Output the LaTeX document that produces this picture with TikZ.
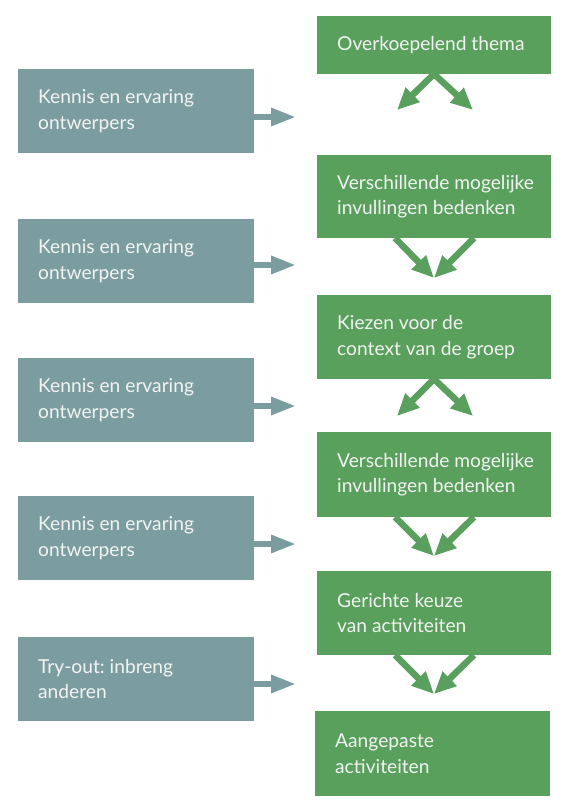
\documentclass[tikz,border=0pt]{standalone}
\usepackage{fontspec}
\setmainfont{Lato}
\usetikzlibrary{arrows.meta}
\definecolor{boxgreen}{HTML}{58A05C}
\definecolor{boxgray}{HTML}{7B9DA0}
\definecolor{txt}{HTML}{F2F4F2}
\frenchspacing
\begin{document}
\begin{tikzpicture}[x=1pt,y=-1pt,
  base/.style={anchor=north west, inner sep=0pt, outer sep=0pt},
  graybox/.style={base, fill=boxgray, minimum width=236pt, minimum height=84pt},
  greenbox/.style={base, fill=boxgreen, minimum width=234pt},
  txtnode/.style={anchor=west, inner sep=0pt, align=left, text=txt,
    font=\fontsize{19.2}{25.5}\selectfont},
  garrow/.style={draw=boxgray, line width=6pt, -{Triangle[length=25pt,width=17pt]}},
  grarrow/.style={draw=boxgreen, line width=6.5pt, -{Triangle[length=22pt,width=19pt]}}
]
\useasboundingbox[fill=white] (0,0) rectangle (568,803);
% green column
\node[greenbox, minimum height=58pt] (g1) at (317,16) {};
\node[greenbox, minimum height=83pt] (g2) at (317,155) {};
\node[greenbox, minimum height=84pt] (g3) at (317,295) {};
\node[greenbox, minimum height=85pt] (g4) at (317,432) {};
\node[greenbox, minimum height=84pt] (g5) at (317,571) {};
\node[greenbox, minimum height=85pt, minimum width=235pt] (g6) at (315,711) {};
\node[txtnode] (g1t) at ([xshift=20pt]g1.west) {Overkoepelend thema};
\node[txtnode] (g2t) at ([xshift=20pt]g2.west) {Verschillende mogelijke\\invullingen bedenken};
\node[txtnode] (g3t) at ([xshift=20pt]g3.west) {Kiezen voor de\\context van de groep};
\node[txtnode] (g4t) at ([xshift=20pt]g4.west) {Verschillende mogelijke\\invullingen bedenken};
\node[txtnode] (g5t) at ([xshift=20pt]g5.west) {Gerichte keuze\\van activiteiten};
\node[txtnode] (g6t) at ([xshift=20pt]g6.west) {Aangepaste\\activiteiten};
% gray column
\node[graybox] (k1) at (18,69) {};
\node[graybox] (k2) at (18,219) {};
\node[graybox] (k3) at (18,358) {};
\node[graybox] (k4) at (18,496) {};
\node[graybox] (k5) at (18,637) {};
\node[txtnode] (k1t) at ([xshift=20pt]k1.west) {Kennis en ervaring\\ontwerpers};
\node[txtnode] (k2t) at ([xshift=20pt]k2.west) {Kennis en ervaring\\ontwerpers};
\node[txtnode] (k3t) at ([xshift=20pt]k3.west) {Kennis en ervaring\\ontwerpers};
\node[txtnode] (k4t) at ([xshift=20pt]k4.west) {Kennis en ervaring\\ontwerpers};
\node[txtnode] (k5t) at ([xshift=20pt]k5.west) {Try-out: inbreng\\anderen};
% gray arrow ends
\coordinate (e1) at (296,117);
\coordinate (e2) at (296,265);
\coordinate (e3) at (296,406);
\coordinate (e4) at (296,544);
\coordinate (e5) at (296,684);
\draw[garrow] (k1.east |- e1) -- (e1);
\draw[garrow] (k2.east |- e2) -- (e2);
\draw[garrow] (k3.east |- e3) -- (e3);
\draw[garrow] (k4.east |- e4) -- (e4);
\draw[garrow] (k5.east |- e5) -- (e5);
% green arrows: diverging
\coordinate (d1l) at (397,110);
\coordinate (d1r) at (473,110);
\draw[grarrow] (g1.south) -- (d1l);
\draw[grarrow] (g1.south) -- (d1r);
\coordinate (d3l) at (397,416);
\coordinate (d3r) at (473,416);
\draw[grarrow] (g3.south) -- (d3l);
\draw[grarrow] (g3.south) -- (d3r);
% converging
\coordinate (c2) at (434,278);
\draw[grarrow] ([xshift=-39pt]g2.south) -- (c2);
\draw[grarrow] ([xshift=40pt]g2.south) -- (c2);
\coordinate (c4) at (434,556);
\draw[grarrow] ([xshift=-39pt]g4.south) -- (c4);
\draw[grarrow] ([xshift=40pt]g4.south) -- (c4);
\coordinate (c5) at (434,694);
\draw[grarrow] ([xshift=-39pt]g5.south) -- (c5);
\draw[grarrow] ([xshift=40pt]g5.south) -- (c5);
\end{tikzpicture}
\end{document}
